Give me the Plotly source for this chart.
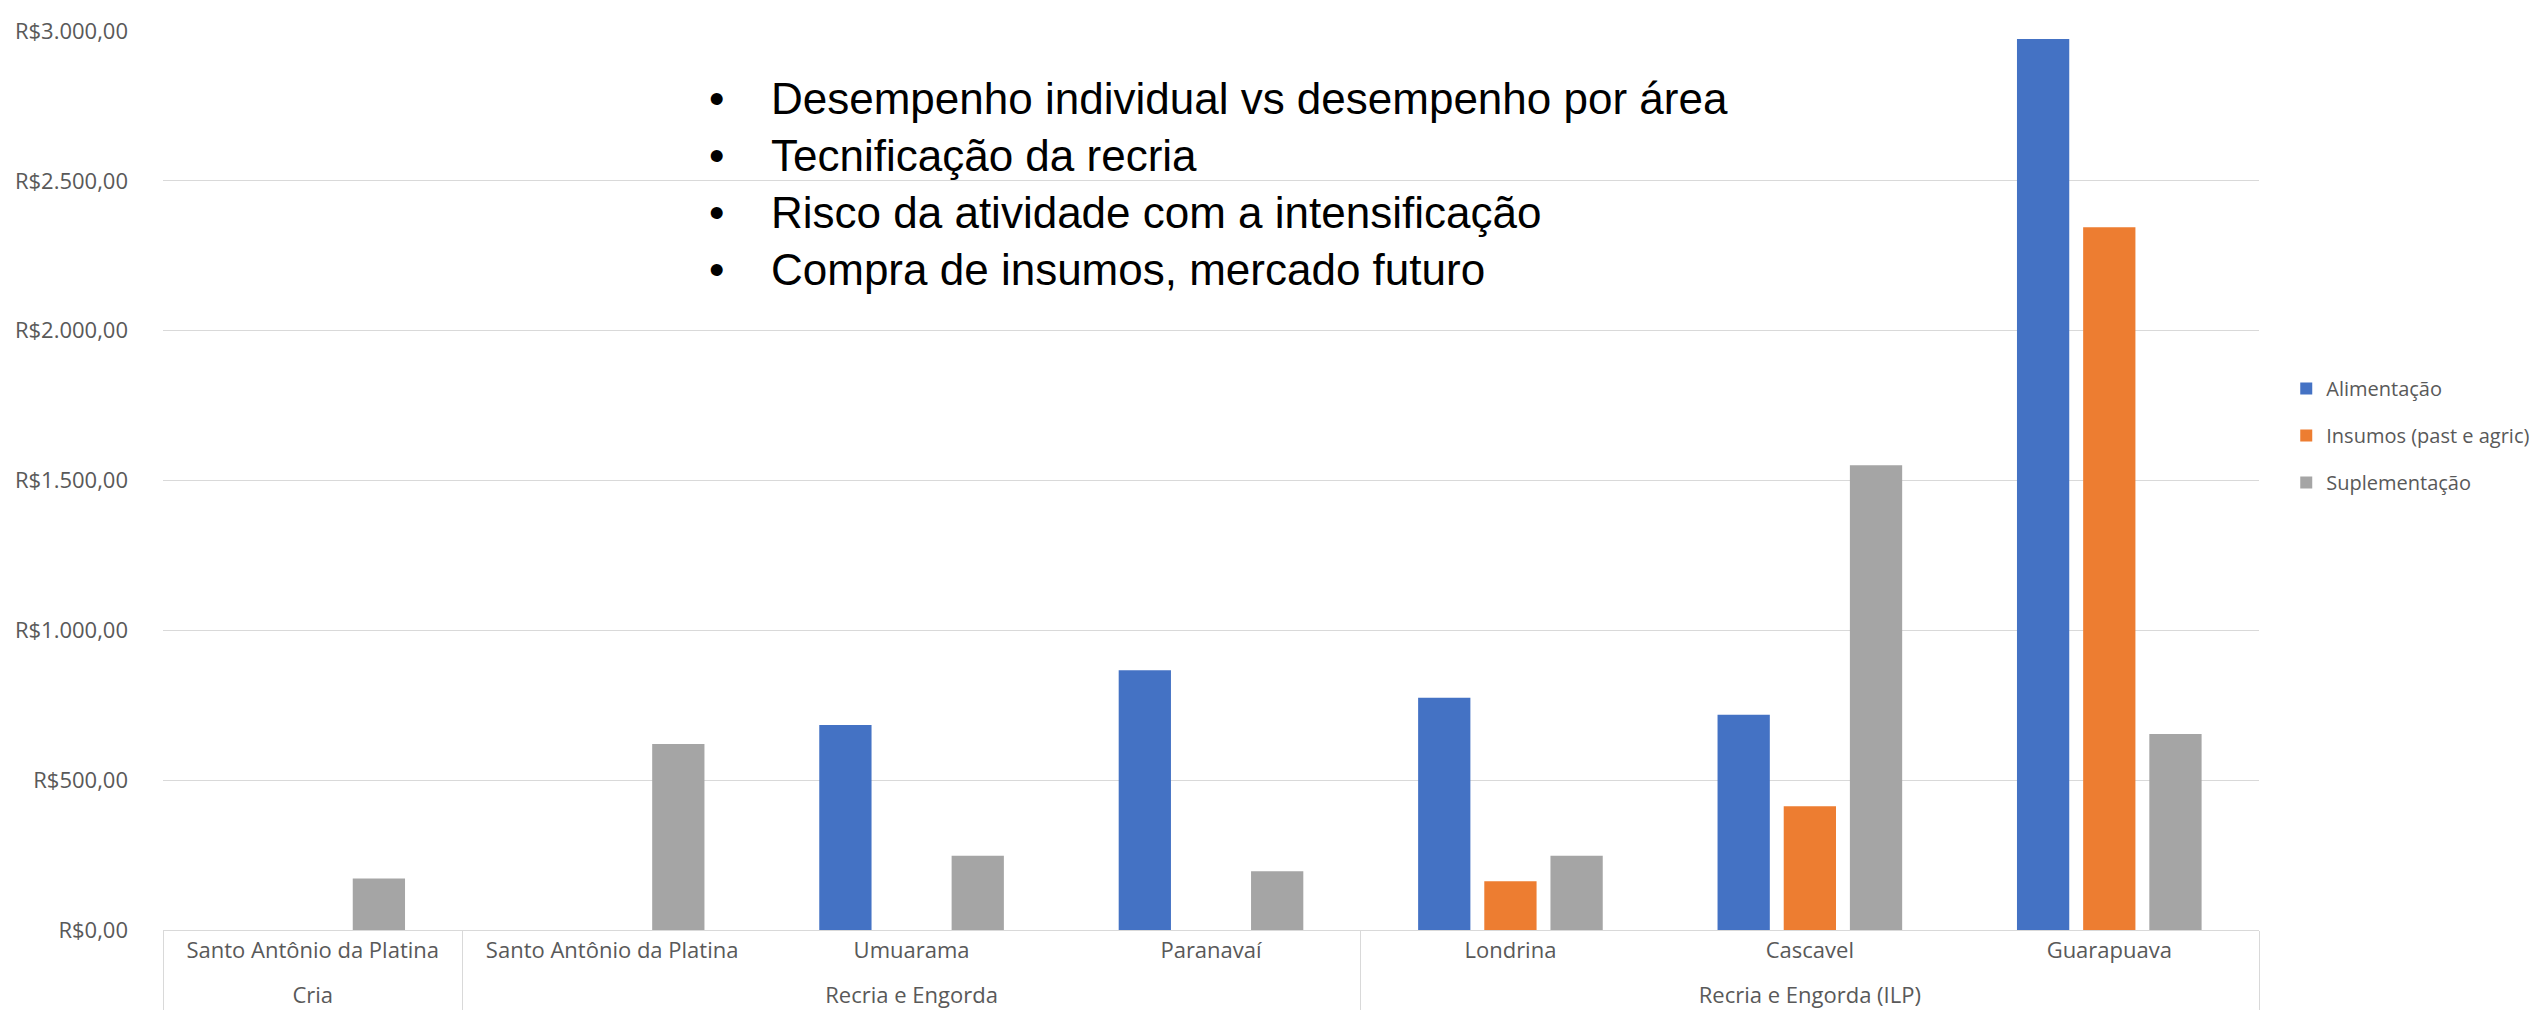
import plotly.graph_objects as go

# Data
GROUPS = [
    "Cria",
    "Recria e Engorda",
    "Recria e Engorda",
    "Recria e Engorda",
    "Recria e Engorda (ILP)",
    "Recria e Engorda (ILP)",
    "Recria e Engorda (ILP)",
]
CITIES = [
    "Santo Antônio da Platina",
    "Santo Antônio da Platina",
    "Umuarama",
    "Paranavaí",
    "Londrina",
    "Cascavel",
    "Guarapuava",
]
ALIMENTACAO = [None, None, 684, 867, 775, 718, 2973]
INSUMOS = [None, None, None, None, 163, 413, 2345]
SUPLEMENTACAO = [172, 621, 248, 196, 248, 1551, 654]

SERIES = [
    ("Alimentação", ALIMENTACAO, "#4472C4"),
    ("Insumos (past e agric)", INSUMOS, "#ED7D31"),
    ("Suplementação", SUPLEMENTACAO, "#A5A5A5"),
]

BULLETS = [
    "Desempenho individual vs desempenho por área",
    "Tecnificação da recria",
    "Risco da atividade com a intensificação",
    "Compra de insumos, mercado futuro",
]

TEXT_COLOR = "#595959"
GRID_COLOR = "#D9D9D9"
NOTE_FONT = "Liberation Sans, Arial, sans-serif"

# labels drawn at 22px inside a smaller base font, so the leading <br>
# on the group row only adds a short gap between the two label rows
span = "<span style='font-size:22px'>{}</span>"
city_labels = [span.format(c) for c in CITIES]
group_labels = ["<br>" + span.format(g) for g in GROUPS]

fig = go.Figure()

for name, values, color in SERIES:
    fig.add_trace(
        go.Bar(
            x=[group_labels, city_labels],
            y=values,
            name=name,
            legendgroup=name,
            marker=dict(color=color, line_width=0),
        )
    )

# bullet notes over the plot
for i, line in enumerate(BULLETS):
    y = 0.925 - i * 0.0635
    fig.add_annotation(
        text="•", x=0.264, y=y, xref="paper", yref="paper",
        xanchor="center", yanchor="middle", showarrow=False,
        font=dict(family=NOTE_FONT, size=44, color="black"),
    )
    fig.add_annotation(
        text=line, x=0.289, y=y, xref="paper", yref="paper",
        xanchor="left", yanchor="middle", showarrow=False,
        font=dict(family=NOTE_FONT, size=44, color="black"),
    )

fig.update_layout(
    width=2539,
    height=1012,
    margin=dict(l=155, r=277, t=23, b=90),
    plot_bgcolor="white",
    paper_bgcolor="white",
    barmode="group",
    bargap=0.337,
    bargroupgap=0.21,
    separators=",.",
    font=dict(family="Open Sans, sans-serif", color=TEXT_COLOR),
    legend=dict(
        x=1.013, y=0.55, xanchor="left", yanchor="middle",
        font=dict(size=20, color=TEXT_COLOR),
        tracegroupgap=18,
        bgcolor="rgba(0,0,0,0)",
    ),
    xaxis=dict(
        type="multicategory",
        showline=True,
        linecolor=GRID_COLOR,
        linewidth=1,
        showgrid=False,
        showdividers=True,
        dividercolor=GRID_COLOR,
        dividerwidth=1,
        ticklabelstandoff=8,
        tickfont=dict(size=16, color=TEXT_COLOR),
        automargin=False,
    ),
    yaxis=dict(
        range=[0, 3000],
        dtick=500,
        tickprefix="R$",
        tickformat=",.2f",
        showgrid=True,
        gridcolor=GRID_COLOR,
        gridwidth=1,
        zeroline=False,
        ticklabelstandoff=34,
        tickfont=dict(size=22, color=TEXT_COLOR),
        automargin=False,
    ),
)

fig.write_html("out.html")
